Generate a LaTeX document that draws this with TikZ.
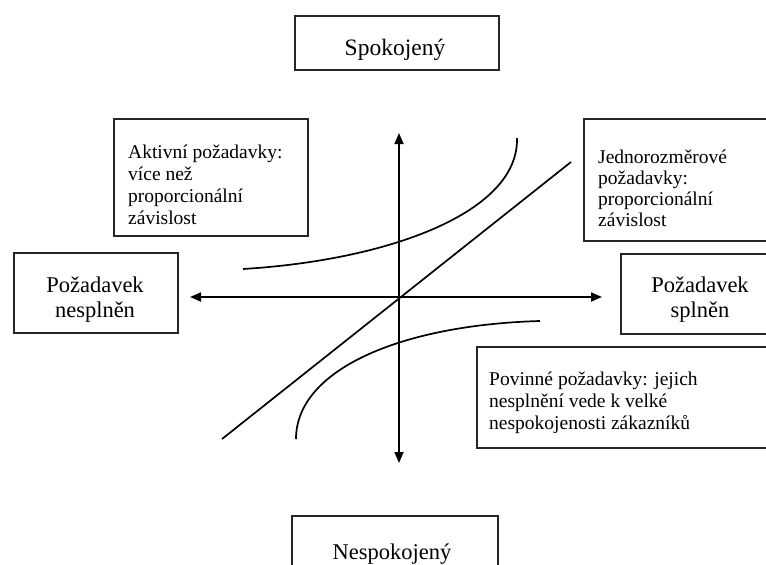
\documentclass[tikz,border=0pt]{standalone}
\usepackage{fontspec}
\setmainfont{Liberation Serif}
\usetikzlibrary{arrows.meta}
\tikzset{
  box/.style={draw=black!85, line width=1.6pt, rectangle, inner sep=0pt, anchor=north west},
  big/.style={font=\fontsize{22.5}{25}\selectfont, inner sep=0pt},
  small/.style={font=\fontsize{19.5}{22}\selectfont, inner sep=0pt, align=left, anchor=base west},
  axis/.style={line width=1.7pt, {Triangle[length=11pt,width=9pt]}-{Triangle[length=11pt,width=9pt]}},
  curve/.style={line width=1.7pt}
}
\begin{document}
\begin{tikzpicture}[x=1pt,y=-1pt]
\clip (0,0) rectangle (766,565);
\fill[white] (0,0) rectangle (766,565);
% boxes
\node[box, minimum width=204pt, minimum height=54pt] (bSp) at (294,15) {};
\node[box, minimum width=206pt, minimum height=90pt] (bNe) at (291,515) {};
\node[box, minimum width=164pt, minimum height=80pt] (bNs) at (13,252) {};
\node[box, minimum width=200pt, minimum height=80pt] (bSl) at (620,253) {};
\node[box, minimum width=194pt, minimum height=117pt] (bAk) at (113,118) {};
\node[box, minimum width=220pt, minimum height=122pt] (bJe) at (583,118) {};
\node[box, minimum width=320pt, minimum height=101pt] (bPo) at (476,346) {};
% texts
\node[big, anchor=base, font=\fontsize{23.5}{25}\selectfont] (tSp) at (395,55) {Spokojený};
\node[big, anchor=base] (tNe) at (392,559) {Nespokojený};
\node[big, anchor=base] (tNs1) at (95,292) {Požadavek};
\node[big, anchor=base] (tNs2) at (95,317) {nesplněn};
\node[big, anchor=base] (tSl1) at (700,292) {Požadavek};
\node[big, anchor=base] (tSl2) at (700,317) {splněn};
\node[small] (tAk) at (128,224) {Aktivní požadavky:\\více než\\proporcionální\\závislost};
\node[small, font=\fontsize{19.5}{21}\selectfont] (tJe) at (598,226) {Jednorozměrové\\požadavky:\\proporcionální\\závislost};
\node[small] (tPo) at (489,429) {Povinné požadavky: jejich\\nesplnění vede k velké\\nespokojenosti zákazníků};
% axes
\coordinate (O) at (399,297);
\coordinate (up) at (399,133);
\coordinate (down) at (399,463);
\coordinate (left) at (190,297);
\coordinate (right) at (602,297);
\draw[axis] (down) -- (up);
\draw[axis] (left) -- (right);
% diagonal
\coordinate (d1) at (222,439);
\coordinate (d2) at (571,162);
\draw[curve] (d1) -- (d2);
% curves
\coordinate (u1) at (243,269);
\coordinate (u2) at (517,138);
\draw[curve] (u1) .. controls (390,260) and (519,212) .. (u2);
\coordinate (l1) at (296,439);
\coordinate (l2) at (540,321);
\draw[curve] (l1) .. controls (296,370) and (400,325) .. (l2);
\end{tikzpicture}
\end{document}
